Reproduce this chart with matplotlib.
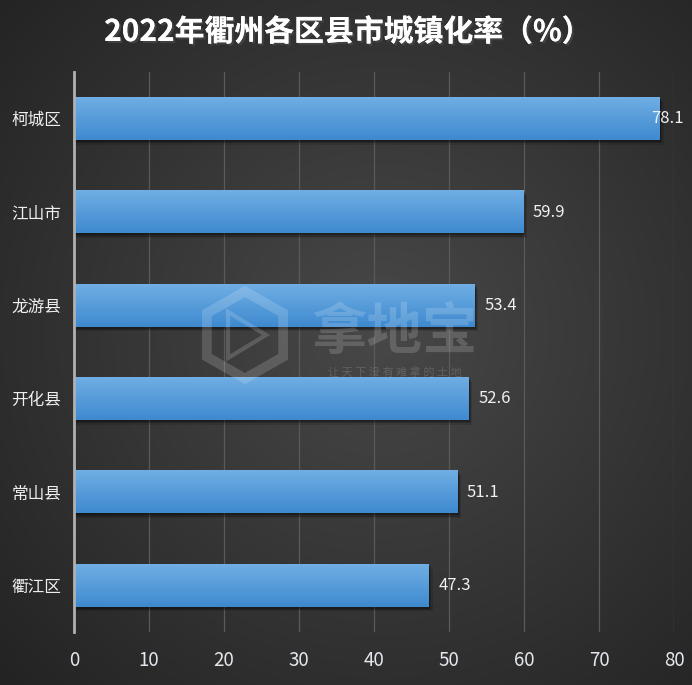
import numpy as np
import matplotlib
matplotlib.use('Agg')
import matplotlib.pyplot as plt
import matplotlib.patheffects as pe
from matplotlib.patches import RegularPolygon, Polygon

plt.rcParams['font.family'] = ['Noto Sans CJK SC', 'DejaVu Sans']

# 数据
districts = ['柯城区', '江山市', '龙游县', '开化县', '常山县', '衢江区']
rates = [78.1, 59.9, 53.4, 52.6, 51.1, 47.3]
x_ticks = [0, 10, 20, 30, 40, 50, 60, 70, 80]
title = '2022年衢州各区县市城镇化率（%）'

W, H = 692, 685
fig = plt.figure(figsize=(W / 100, H / 100), dpi=100)

# 背景径向渐变
bg_ax = fig.add_axes([0, 0, 1, 1], zorder=-10)
yy, xx = np.mgrid[0:H, 0:W]
r = np.sqrt(((xx - 380) / W) ** 2 + ((yy - 330) / H) ** 2)
r = np.clip(r / 0.75, 0, 1)
c0 = np.array([0x48, 0x48, 0x48]) / 255
c1 = np.array([0x23, 0x23, 0x23]) / 255
img = c0[None, None, :] * (1 - r[..., None]) + c1[None, None, :] * r[..., None]
bg_ax.imshow(img, aspect='auto', extent=[0, 1, 0, 1], origin='upper')
bg_ax.axis('off')

ax = fig.add_axes([74 / W, 1 - 632 / H, 600 / W, 560 / H])
ax.set_facecolor('none')

bar_h = 0.46
top_c = np.array([0x70, 0xae, 0xe4]) / 255
bot_c = np.array([0x3e, 0x8a, 0xcf]) / 255
grad = np.linspace(0, 1, 64)[:, None, None]
bar_img = top_c * (1 - grad) + bot_c * grad

for i, v in enumerate(rates):
    # 柔和阴影
    for dx, dy, a in [(0.5, 0.05, 0.12), (0.35, 0.035, 0.18), (0.2, 0.02, 0.25)]:
        ax.barh(i + dy, v + dx, height=bar_h, color='black', alpha=a,
                zorder=2, linewidth=0)
    # 渐变柱
    ax.imshow(bar_img, aspect='auto', zorder=3,
              extent=[0, v, i + bar_h / 2, i - bar_h / 2], origin='upper')
    if v > 74:
        ax.annotate(f'{v}', xy=(1.0, i), xycoords=('axes fraction', 'data'),
                    xytext=(7, 0), textcoords='offset points',
                    ha='right', va='center', color='#f0f0f0', fontsize=12, zorder=5)
    else:
        ax.annotate(f'{v}', xy=(v, i), xytext=(7, 0), textcoords='offset points',
                    ha='left', va='center', color='#f0f0f0', fontsize=12, zorder=5)

ax.set_xlim(0, 80)
ax.set_ylim(len(districts) - 0.5, -0.5)
ax.set_xticks(x_ticks)
ax.set_xticklabels([str(t) for t in x_ticks], color='#e4e8ee', fontsize=13.5)
ax.set_yticks(range(len(districts)))
ax.set_yticklabels(districts, color='#eeeeee', fontsize=12)
ax.tick_params(axis='both', length=0)
ax.tick_params(axis='x', pad=13)
ax.tick_params(axis='y', pad=9)

ax.grid(axis='x', color='#5a5a5a', linewidth=0.9, zorder=0)
ax.set_axisbelow(True)
for s in ['top', 'right', 'bottom']:
    ax.spines[s].set_visible(False)
ax.spines['left'].set_color('#b0b0b0')
ax.spines['left'].set_linewidth(2)
ax.spines['left'].set_zorder(6)

# 水印
wm = dict(color='white', alpha=0.16, zorder=20)
hexa = RegularPolygon((245 / W, 1 - 335 / H), numVertices=6, radius=44 / W,
                      orientation=0, transform=fig.transFigure, fill=False,
                      linewidth=7, **wm)
tri = Polygon([(228 / W, 1 - 312 / H), (228 / W, 1 - 358 / H), (266 / W, 1 - 335 / H)],
              closed=True, fill=False, linewidth=3, transform=fig.transFigure, **wm)
fig.add_artist(hexa)
fig.add_artist(tri)
fig.text(395 / W, 1 - 333 / H, '拿地宝', fontsize=40, fontweight='bold',
         ha='center', va='center', **wm)
fig.text(395 / W, 1 - 372 / H, '让 天 下 没 有 难 拿 的 土 地', fontsize=8,
         ha='center', va='center', **wm)

fig.text(0.503, 1 - 32 / H, title, fontsize=21.5, fontweight='bold', color='white',
         ha='center', va='center',
         path_effects=[pe.withSimplePatchShadow(offset=(1.5, -1.5), alpha=0.6),
                       pe.Normal()])

fig.savefig('out.png', dpi=100)
